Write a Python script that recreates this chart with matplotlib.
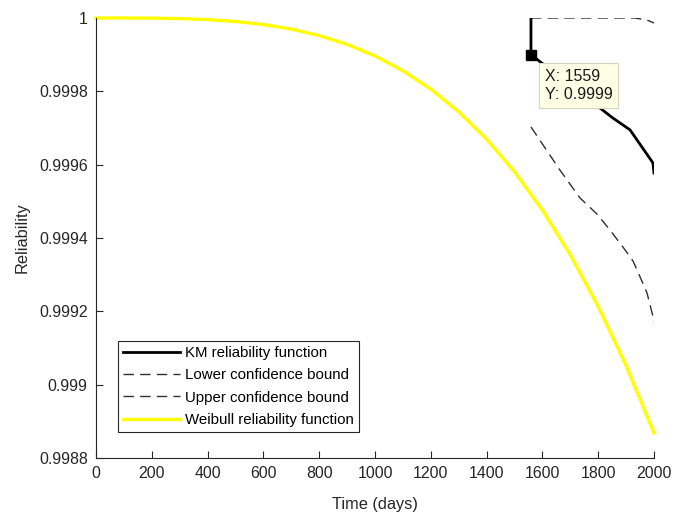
import matplotlib
matplotlib.use("Agg")
import matplotlib.pyplot as plt

plt.rcParams['font.family'] = ['Liberation Sans', 'DejaVu Sans']
plt.rcParams['lines.scale_dashes'] = False

# Weibull reliability function, sampled every 100 days
weibull_t = [0, 100, 200, 300, 400, 500, 600, 700, 800, 900, 1000,
             1100, 1200, 1300, 1400, 1500, 1600, 1700, 1800, 1900, 2000]
weibull_r = [1.0, 1.0, 0.9999996, 0.9999984, 0.9999956, 0.9999905,
             0.9999822, 0.9999697, 0.9999520, 0.9999280, 0.9998964,
             0.9998561, 0.9998057, 0.9997439, 0.9996693, 0.9995805,
             0.9994758, 0.9993538, 0.9992130, 0.9990516, 0.9988680]

# Kaplan-Meier estimate and its confidence bounds
km_t = [1559, 1559, 1853, 1914, 1996, 2000]
km_r = [1.0, 0.9999, 0.999727, 0.999695, 0.999605, 0.999577]

lower_t = [1559, 1663, 1735, 1796, 1842, 1889, 1925, 1950, 1975, 1996, 2000]
lower_r = [0.999703, 0.999585, 0.999509, 0.999465, 0.999422, 0.999375,
           0.999337, 0.999294, 0.999250, 0.999187, 0.999171]

upper_t = [1559, 1932, 1975, 2000]
upper_r = [1.0, 1.0, 0.9999945, 0.9999864]

# Data tip on the KM curve
tip_t, tip_r = 1559, 0.9999

x_ticks = [0, 200, 400, 600, 800, 1000, 1200, 1400, 1600, 1800, 2000]
y_ticks = [0.9988, 0.999, 0.9992, 0.9994, 0.9996, 0.9998, 1.0]
y_tick_labels = ['0.9988', '0.999', '0.9992', '0.9994', '0.9996', '0.9998', '1']

fig = plt.figure(figsize=(6.74, 5.14), dpi=100)
ax = fig.add_axes([96 / 674, 1 - 458 / 514, 558 / 674, 440 / 514])

ax.plot(km_t, km_r, color='black', lw=2.0, label='KM reliability function',
        solid_joinstyle='round', zorder=4)
ax.plot(lower_t, lower_r, color='#303030', lw=1.0, dashes=(7.5, 4.5),
        label='Lower confidence bound', zorder=3)
ax.plot(upper_t, upper_r, color='#303030', lw=1.0, dashes=(7.5, 4.5),
        label='Upper confidence bound', zorder=3)
ax.plot(weibull_t, weibull_r, color='#ffff00', lw=2.4,
        label='Weibull reliability function', zorder=2, clip_on=False)

ax.plot([tip_t], [tip_r], marker='s', ms=7, color='black', mec='black',
        zorder=6, clip_on=False)
ax.annotate(f'X: {tip_t}\nY: {tip_r:.4f}', xy=(tip_t, tip_r),
            xytext=(14, -14), textcoords='offset pixels',
            ha='left', va='top', fontsize=11.5, color='#1a1a1a',
            linespacing=1.3, zorder=7,
            bbox=dict(boxstyle='square,pad=0.35', fc='#ffffe6',
                      ec='#d4d4c0', lw=0.8))

ax.set_xlim(0, 2000)
ax.set_ylim(0.9988, 1.0)
ax.set_xticks(x_ticks)
ax.set_xticklabels([str(v) for v in x_ticks])
ax.set_yticks(y_ticks)
ax.set_yticklabels(y_tick_labels)

for side in ('top', 'right'):
    ax.spines[side].set_visible(False)
for side in ('left', 'bottom'):
    ax.spines[side].set_color('#262626')
    ax.spines[side].set_linewidth(0.8)

ax.tick_params(direction='in', length=5, width=0.8, colors='#262626',
               labelsize=11.4, labelcolor='#262626', pad=6)

ax.set_xlabel('Time (days)', fontsize=11.8, color='#262626', labelpad=11)
ax.set_ylabel('Reliability', fontsize=11.8, color='#262626', labelpad=7)

leg = ax.legend(loc='lower left', bbox_to_anchor=(0.039, 0.059),
                borderaxespad=0, fancybox=False, framealpha=1,
                edgecolor='#262626', fontsize=10.8, handlelength=3.8,
                handletextpad=0.3, labelspacing=0.55, borderpad=0.35)
leg.get_frame().set_linewidth(0.8)

fig.savefig('out.png', dpi=100)
